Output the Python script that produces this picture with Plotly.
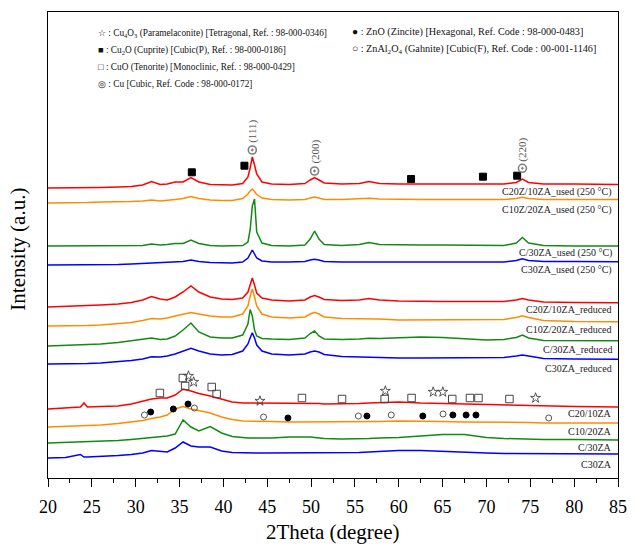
import plotly.graph_objects as go

# ---------------- data ----------------
two_theta = [20, 22, 23.7, 24.1, 24.5, 26, 28, 29.5, 30.8, 31.8, 32.8, 33.6, 34.5, 35.4, 36.3, 37.2,
             38.5, 39.8, 41, 42.2, 42.8, 43.05, 43.3, 43.55, 43.8, 44.4, 45.5, 47.5, 49.3, 49.9, 50.4,
             50.9, 51.5, 53.5, 55.5, 56.6, 57.8, 60, 62.5, 65, 67.5, 70, 72, 73.4, 74.1, 74.8, 76.5, 80, 85]

# used (250 C)
c20z10za_used = [0, 0, 0, 0, 0, 0.5, 1, 1.5, 3, 6.5, 3.5, 4, 6, 6, 10.5, 6, 3.5, 3, 3, 4.5, 11, 20, 31, 23, 14,
                 6, 4, 3.5, 4.5, 8, 10.5, 8, 5, 4, 4.5, 6.5, 4.5, 4, 4, 4, 4.5, 4.5, 4, 5.5, 9, 5.5, 4, 4, 3.5]
c10z20za_used = [0, 0, 0.5, 0.5, 0.5, 1, 1, 1.5, 2, 3, 2, 2.5, 3.5, 4.5, 6.5, 4.5, 3, 2.5, 2.5, 4.5, 9, 12, 14,
                 11.5, 8.5, 5, 3.5, 3, 3.5, 5, 6, 5, 3.5, 3.5, 4, 4.7, 4, 3.5, 3.5, 3.5, 3.5, 3.5, 3.5, 4.5,
                 5.8, 4.5, 3.5, 3.5, 3.5]
c30za_cu_used = [0, 0, 0, 0, 0, 0, 0, 0.5, 0.5, 2, 1, 1.5, 2.5, 2.5, 6, 2.5, 0.5, 0, 0, 0.5, 4, 16, 40, 47, 14,
                 3, 0.5, 0, 1, 7, 15, 7, 1.5, 0.5, 1.5, 3.5, 1.5, 1, 1, 1, 1, 0.5, 0.5, 3, 8.5, 3, 0.5, 0, 0]
c30za_used = [0, 0, 0, 0, 0, 0.5, 0.5, 1, 1.5, 2, 2, 2.5, 3, 3.5, 5, 3.5, 2.5, 2, 2, 3, 7, 11, 15, 11, 7, 4,
              3, 3, 3.5, 5, 5.7, 5, 3.5, 3, 3, 3.5, 3, 3, 3, 3, 3, 3, 3, 4.5, 6.3, 4.5, 3.5, 3.5, 3.3]

# reduced
c20z10za_red = [0, 0.5, 1, 1, 1, 2, 3, 4.5, 7, 10.5, 8, 7, 10, 15, 21, 15, 10, 8, 7.5, 9, 15, 22, 29, 22, 14,
                9, 7, 6, 7, 10, 11.5, 10, 7.5, 6.5, 7, 8.5, 7, 6, 5.5, 5.5, 5.5, 5.5, 5.5, 7, 8.5, 7, 5, 4.5, 4.3]
c10z20za_red = [0, 0, 0.5, 0.5, 0.5, 1, 2, 3.5, 5.5, 7.5, 7, 8, 10, 12, 13.5, 12, 10, 9, 9, 12, 20, 30, 37,
                29, 20, 12, 9, 8, 9, 12, 13.7, 12, 9, 7.5, 7.5, 7.7, 7, 6, 6, 6, 6, 6, 6.5, 8.5, 10.3, 8.5,
                5.5, 4.5, 4.3]
c30za_cu_red = [0, 0.5, 1, 1, 1, 2, 3.5, 5, 6.5, 8, 6.5, 7, 10, 16, 23, 14, 9, 8, 8, 11, 22, 36.5, 30, 16, 10,
                7.5, 7, 6.5, 8, 12.5, 15, 10, 7, 6.5, 7, 7.7, 7.5, 8, 9, 8.5, 7, 6, 6.5, 8.5, 11, 8, 5.5,
                5.5, 5.3]
c30za_red = [0, 0, 0.5, 0.5, 0.5, 1, 2, 3.5, 5, 7.3, 7, 8, 10, 13, 15.7, 13, 10, 9, 9.5, 13, 20, 26, 31.3, 26,
             19, 13, 10, 9, 10, 12, 13, 12, 9.5, 7.5, 7, 6.7, 6.5, 6, 6, 6, 6, 6, 6.5, 8, 9, 8, 5.5, 5, 4.7]

# fresh
c20_10za = [0, 1, 2, 6, 2, 2.5, 3, 5, 7.5, 10, 11, 11, 14, 20, 18, 15.5, 13, 9.5, 7, 6, 6, 6, 6, 6, 6, 6, 6,
            5.5, 5.5, 5.5, 5.5, 5.5, 5, 5, 5.5, 6, 6.5, 7, 6, 5.5, 5, 4.5, 4, 3.5, 3.5, 3.5, 3, 2.5, 2]
c10_20za = [0, 0.5, 1, 1, 1, 2, 3.5, 5, 6.5, 8.5, 10, 12, 18, 20.5, 18, 16.5, 14, 10, 7.5, 6, 6, 6, 6, 6, 6,
            5.5, 5.5, 5, 5, 5, 5, 5, 5, 5, 5.5, 5.5, 5.5, 6, 6, 5.5, 5, 5, 4.5, 4.5, 4.5, 4.5, 4, 4, 4]
c_30za = [0, 0.5, 1, 1, 1, 1.5, 2.5, 3.5, 4.5, 5.5, 6, 7, 9, 23, 16, 12, 16.5, 10, 6.5, 5, 5, 5, 5, 5, 5, 5,
          5, 6, 6.5, 6, 5.5, 5, 4.5, 4, 4, 4.5, 5, 5.5, 7, 8.5, 8.5, 5.5, 4.5, 4, 4, 3.5, 3.5, 3.5, 3]
c30za = [0, 0.5, 3.5, 1, 1, 1.5, 2.5, 3.5, 5, 7.5, 7, 6, 10, 16, 12, 11, 11, 7, 5.5, 5, 5, 5, 5, 5, 5, 5, 5,
         5, 5, 5, 5, 5, 5, 5, 5.5, 6, 6.5, 7.5, 7.5, 6.5, 5.5, 5, 4.5, 4.5, 4.5, 4.5, 4.5, 4, 4]

labels = ["C30ZA", "C/30ZA", "C10/20ZA", "C20/10ZA",
          "C30ZA_reduced", "C/30ZA_reduced", "C10Z/20ZA_reduced", "C20Z/10ZA_reduced",
          "C30ZA_used (250 °C)", "C/30ZA_used (250 °C)", "C10Z/20ZA_used (250 °C)", "C20Z/10ZA_used (250 °C)"]

# phase markers
cu4o3_x = [36.02, 36.61, 44.17, 58.47, 63.93, 65.02, 75.6]
cu4o3_y = [102, 96, 77, 87, 86, 86, 80]
cuo_x = [32.76, 35.38, 35.64, 38.67, 39.23, 48.96, 53.53, 58.39, 61.46, 66.1, 68.12, 69.09, 72.62]
cuo_y = [85, 100, 92, 91, 84, 80, 79, 79, 80, 79, 80, 80, 79]
zno_x = [31.71, 34.29, 35.97, 47.36, 56.37, 62.74, 66.17, 67.68, 68.8]
zno_y = [66, 69, 74, 60, 62, 62, 63, 63, 63]
znal2o4_x = [31.0, 36.69, 44.58, 55.4, 59.14, 65.05, 77.1]
znal2o4_y = [63, 70, 61, 62, 63, 64, 60]
cu2o_x = [36.4, 42.4, 61.4, 69.6, 73.5]
cu2o_y = [305.7, 312.3, 299, 301.3, 302.3]
cu_x = [43.3, 50.4, 74.1]
cu_y = [328, 307, 309.7]
cu_hkl = ["(111)", "(200)", "(220)"]

legend_left = [
    "☆ : Cu<sub>4</sub>O<sub>3</sub> (Paramelaconite) [Tetragonal, Ref. : 98-000-0346]",
    "■ : Cu<sub>2</sub>O (Cuprite) [Cubic(P), Ref. : 98-000-0186]",
    "□ : CuO (Tenorite) [Monoclinic, Ref. : 98-000-0429]",
    "◎ : Cu [Cubic, Ref. Code : 98-000-0172]",
]
legend_right = [
    "● : ZnO (Zincite) [Hexagonal, Ref. Code : 98-000-0483]",
    "○ : ZnAl<sub>2</sub>O<sub>4</sub> (Gahnite) [Cubic(F), Ref. Code : 00-001-1146]",
]

# ---------------- styling / layout ----------------
series = [c30za, c_30za, c10_20za, c20_10za,
          c30za_red, c30za_cu_red, c10z20za_red, c20z10za_red,
          c30za_used, c30za_cu_used, c10z20za_used, c20z10za_used]
offsets = [20, 35, 51, 69, 114, 132, 152, 171, 213, 232, 275, 290]
label_y = [14, 31, 47, 65, 110, 129, 149, 169, 208, 225, 268, 286]
colors = ["#0000ff", "#128a12", "#ff8c00", "#ff0000"] * 3

FONT = "Liberation Serif, Times New Roman, serif"
fig = go.Figure()

for vals, off, col in zip(series, offsets, colors):
    fig.add_trace(go.Scatter(x=two_theta, y=[v + off for v in vals], mode="lines",
                             line=dict(color=col, width=1.5), showlegend=False, hoverinfo="skip"))

def add_markers(xs, ys, symbol, size, color, lw=1):
    fig.add_trace(go.Scatter(x=xs, y=ys, mode="markers", showlegend=False, hoverinfo="skip",
                             marker=dict(symbol=symbol, size=size, color=color,
                                         line=dict(color=color, width=lw))))

add_markers(cuo_x, cuo_y, "square-open", 7.5, "#444444", 1)
add_markers(cu4o3_x, cu4o3_y, "star-open", 7.5, "#444444", 0.9)
add_markers(zno_x, zno_y, "circle", 6, "#000000", 1)
add_markers(znal2o4_x, znal2o4_y, "circle-open", 6, "#555555", 1)
add_markers(cu2o_x, cu2o_y, "square", 7, "#000000", 1)
add_markers(cu_x, cu_y, "circle-open-dot", 8, "#808080", 1.6)

ann = []
for lab, ly in zip(labels, label_y):
    ann.append(dict(x=84.5, y=ly, xref="x", yref="y", text=lab, showarrow=False, xanchor="right",
                    yanchor="middle", font=dict(family=FONT, size=10, color="#222222")))
for hx, hy, ht in zip(cu_x, cu_y, cu_hkl):
    ann.append(dict(x=hx, y=hy, xref="x", yref="y", text=ht, showarrow=False, textangle=-90,
                    xanchor="center", yanchor="bottom", yshift=5,
                    font=dict(family=FONT, size=11, color="#555555")))

for txt, py in zip(legend_left, [25, 45, 65, 85]):
    ann.append(dict(x=53 / 636, y=1 - py / 549, xref="paper", yref="paper", text=txt, showarrow=False,
                    xanchor="left", yanchor="middle",
                    font=dict(family=FONT, size=9.3, color="#111111")))
for txt, py in zip(legend_right, [24, 44]):
    ann.append(dict(x=337 / 636, y=1 - py / 549, xref="paper", yref="paper", text=txt, showarrow=False,
                    xanchor="left", yanchor="middle",
                    font=dict(family=FONT, size=10.2, color="#111111")))

ann.append(dict(x=0.5, y=0, xref="paper", yref="paper", text="2Theta (degree)", showarrow=False,
                xanchor="center", yanchor="middle", yshift=-54,
                font=dict(family=FONT, size=21, color="black")))
ann.append(dict(x=0, y=0.49, xref="paper", yref="paper", text="Intensity (a.u.)", showarrow=False,
                xanchor="center", yanchor="middle", xshift=-30, textangle=-90,
                font=dict(family=FONT, size=21, color="black")))

fig.update_layout(
    width=636, height=549, margin=dict(l=48, r=9, t=12, b=71),
    paper_bgcolor="white", plot_bgcolor="white",
    xaxis=dict(range=[20, 85], tickvals=list(range(20, 86, 5)), ticks="outside", ticklen=8,
               tickwidth=1.2, tickcolor="black", linecolor="black", linewidth=1.3, mirror=True,
               showgrid=False, zeroline=False, ticklabelstandoff=4,
               tickfont=dict(family=FONT, size=18, color="black"),
               minor=dict(ticks="outside", ticklen=4, dtick=2.5, tick0=20, tickcolor="black",
                          showgrid=False)),
    yaxis=dict(range=[0, 466], showticklabels=False, ticks="", linecolor="black", linewidth=1.3,
               mirror=True, showgrid=False, zeroline=False),
    annotations=ann,
)

fig.write_html("out.html")
